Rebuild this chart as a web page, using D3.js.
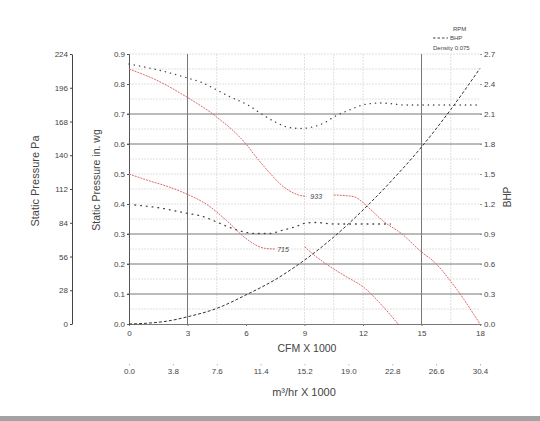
<!DOCTYPE html>
<meta charset="utf-8">
<script src="https://d3js.org/d3.v7.min.js"></script>
<style>
  body { margin: 0; background: #fff; }
  text { font-family: "Liberation Sans", Arial, sans-serif; fill: #444; }
</style>
<body>
  <div id="chart"></div>
</body>
<script>

  // axis ticks
  var cfmTicks = [0, 3, 6, 9, 12, 15, 18];
  var m3hrTicks = [0.0, 3.8, 7.6, 11.4, 15.2, 19.0, 22.8, 26.6, 30.4];
  var paTicks = [0, 28, 56, 84, 112, 140, 168, 196, 224];
  var wgTicks = [0, 0.1, 0.2, 0.3, 0.4, 0.5, 0.6, 0.7, 0.8, 0.9];
  var bhpTicks = [0, 0.3, 0.6, 0.9, 1.2, 1.5, 1.8, 2.1, 2.4, 2.7];

  // grid lines
  var darkGridWg = [0.1, 0.2, 0.3, 0.6, 0.7];
  var lightGridWg = [0.05, 0.15, 0.25, 0.35, 0.4, 0.45, 0.5, 0.55, 0.65, 0.75, 0.8, 0.85, 0.9];
  var darkGridCfm = [3, 15];
  var lightGridCfm = [4.5, 9, 10.5, 12, 16.5];

  // pressure curves (in. wg), split where the rpm label sits
  var highRpmCfmA = [0, 1.5, 3, 4.5, 6, 6.6, 7.2, 7.7, 8.2, 8.7, 9.1];
  var highRpmWgA  = [0.85, 0.81, 0.755, 0.69, 0.60, 0.55, 0.505, 0.47, 0.445, 0.43, 0.425];
  var highRpmCfmB = [10.5, 11.5, 12, 12.5, 13, 14, 15, 15.6, 16.7, 18];
  var highRpmWgB  = [0.43, 0.425, 0.405, 0.375, 0.345, 0.30, 0.24, 0.21, 0.125, 0.0];

  var lowRpmCfmA = [0, 1, 2, 3, 4, 5, 6, 6.6, 7, 7.5];
  var lowRpmWgA  = [0.50, 0.478, 0.458, 0.432, 0.398, 0.345, 0.285, 0.26, 0.252, 0.25];
  var lowRpmCfmB = [9, 9.45, 10, 11, 12.1, 13, 13.8];
  var lowRpmWgB  = [0.258, 0.232, 0.205, 0.163, 0.119, 0.06, 0.0];

  var rpmLabels = ["933", "715"];

  // brake horsepower curves
  var highBhpCfm = [0, 1.5, 3, 3.8, 4.5, 5.2, 6.1, 6.8, 7.5, 8.2, 8.8, 9.4, 10, 10.5, 11.3, 12.2, 12.9, 13.6, 14.1, 15.3, 16.5, 18];
  var highBhp    = [2.6, 2.54, 2.46, 2.41, 2.34, 2.27, 2.19, 2.10, 2.02, 1.965, 1.956, 1.97, 2.01, 2.07, 2.14, 2.2, 2.21, 2.2, 2.19, 2.19, 2.19, 2.19];

  var lowBhpCfm = [0.3, 1.6, 2.9, 3.7, 4.5, 5.1, 5.8, 6.5, 7.2, 7.9, 8.5, 9.1, 9.6, 10.5, 12, 13.4];
  var lowBhp    = [1.19, 1.16, 1.11, 1.08, 1.02, 0.97, 0.925, 0.905, 0.905, 0.94, 0.97, 1.01, 1.015, 1.0, 1.0, 1.0];

  // system curve (in. wg)
  var systemCfm = [0, 1, 2, 3, 4.5, 6, 7.5, 9, 10.5, 12, 13.5, 15, 16.5, 18];
  var systemWg  = [0, 0.003, 0.01, 0.024, 0.052, 0.097, 0.148, 0.213, 0.29, 0.38, 0.48, 0.59, 0.715, 0.852];

  var W = 540, H = 421;
  var plotL = 129, plotR = 480, plotT = 54, plotB = 324;

  var svg = d3.select("#chart")
    .append("svg")
      .attr("width", W)
      .attr("height", H);

  var x = d3.scaleLinear().domain([0, 18]).range([plotL, plotR]);
  var xM = d3.scaleLinear().domain([0, 30.4]).range([plotL, plotR]);
  var yWg = d3.scaleLinear().domain([0, 0.9]).range([plotB, plotT]);
  var yPa = d3.scaleLinear().domain([0, 224]).range([plotB, plotT]);
  var yBhp = d3.scaleLinear().domain([0, 2.7]).range([plotB, plotT]);

  // grid
  svg.selectAll(".lgh").data(lightGridWg).join("line")
    .attr("x1", plotL).attr("x2", plotR)
    .attr("y1", d => yWg(d)).attr("y2", d => yWg(d))
    .style("stroke", "#e0e0e0").style("stroke-dasharray", "2,1");
  svg.selectAll(".lgv").data(lightGridCfm).join("line")
    .attr("x1", d => x(d)).attr("x2", d => x(d))
    .attr("y1", plotT).attr("y2", plotB)
    .style("stroke", "#e0e0e0").style("stroke-dasharray", "2,1");
  svg.selectAll(".dgh").data(darkGridWg).join("line")
    .attr("x1", plotL - 2).attr("x2", plotR + 2)
    .attr("y1", d => yWg(d)).attr("y2", d => yWg(d))
    .style("stroke", "#777");
  svg.selectAll(".dgv").data(darkGridCfm).join("line")
    .attr("x1", d => x(d)).attr("x2", d => x(d))
    .attr("y1", plotT).attr("y2", plotB)
    .style("stroke", "#777");

  // axes
  function styleAxis(g, lineColor) {
    g.selectAll("text").style("font-size", "8px").style("fill", "#444");
    g.selectAll("line").style("stroke", lineColor);
    g.select(".domain").style("stroke", lineColor);
  }

  svg.append("g")
    .attr("transform", `translate(${plotL},0)`)
    .call(d3.axisLeft(yWg).tickValues(wgTicks).tickFormat(d3.format(".1f")).tickSize(2).tickPadding(2))
    .call(g => styleAxis(g, "#555"));

  svg.append("g")
    .attr("transform", "translate(72,0)")
    .call(d3.axisLeft(yPa).tickValues(paTicks).tickFormat(d3.format("d")).tickSizeInner(2).tickSizeOuter(0).tickPadding(2))
    .call(g => styleAxis(g, "#444"));

  svg.append("g")
    .attr("transform", `translate(${plotR},0)`)
    .call(d3.axisRight(yBhp).tickValues(bhpTicks).tickFormat(d3.format(".1f")).tickSize(2).tickPadding(2))
    .call(g => styleAxis(g, "#999"))
    .call(g => g.select(".domain").remove());

  svg.append("g")
    .attr("transform", `translate(0,${plotB})`)
    .call(d3.axisBottom(x).tickValues(cfmTicks).tickSizeInner(2).tickSizeOuter(0).tickPadding(4))
    .call(g => styleAxis(g, "#777"));

  svg.append("g")
    .attr("transform", "translate(0,364)")
    .call(d3.axisBottom(xM).tickValues(m3hrTicks).tickFormat(d3.format(".1f")).tickSize(1.5).tickPadding(3))
    .call(g => styleAxis(g, "#bbb"))
    .call(g => g.select(".domain").remove());

  // axis titles
  svg.append("text")
    .attr("transform", "translate(39,181) rotate(-90)")
    .attr("text-anchor", "middle")
    .style("font-size", "11px")
    .text("Static Pressure Pa");
  svg.append("text")
    .attr("transform", "translate(100,180) rotate(-90)")
    .attr("text-anchor", "middle")
    .style("font-size", "10.5px")
    .text("Static Pressure in. wg");
  svg.append("text")
    .attr("transform", "translate(511,197) rotate(-90)")
    .attr("text-anchor", "middle")
    .style("font-size", "10px")
    .text("BHP");
  svg.append("text")
    .attr("x", 307).attr("y", 352)
    .attr("text-anchor", "middle")
    .style("font-size", "10.5px")
    .text("CFM X 1000");
  svg.append("text")
    .attr("x", 304).attr("y", 396)
    .attr("text-anchor", "middle")
    .style("font-size", "11px")
    .text("m³/hr X 1000");

  // curves
  function wgLine(xs, ys) {
    return d3.line().curve(d3.curveMonotoneX)
      .x(function(d, i) { return x(xs[i]); })
      .y(function(d) { return yWg(d); })(ys);
  }
  function bhpLine(xs, ys) {
    return d3.line().curve(d3.curveMonotoneX)
      .x(function(d, i) { return x(xs[i]); })
      .y(function(d) { return yBhp(d); })(ys);
  }

  var redSeg = [
    [highRpmCfmA, highRpmWgA], [highRpmCfmB, highRpmWgB],
    [lowRpmCfmA, lowRpmWgA], [lowRpmCfmB, lowRpmWgB]
  ];
  svg.selectAll(".rpm").data(redSeg).join("path")
    .attr("d", d => wgLine(d[0], d[1]))
    .style("fill", "none")
    .style("stroke", "#e06a6a")
    .style("stroke-width", 1)
    .style("stroke-dasharray", "2,1");

  svg.append("path")
    .attr("d", bhpLine(highBhpCfm, highBhp))
    .style("fill", "none").style("stroke", "#444")
    .style("stroke-width", 1.3).style("stroke-linecap", "round")
    .style("stroke-dasharray", "0.3,5");

  svg.append("path")
    .attr("d", bhpLine(lowBhpCfm, lowBhp))
    .style("fill", "none").style("stroke", "#444")
    .style("stroke-width", 1.3).style("stroke-linecap", "round")
    .style("stroke-dasharray", "0.8,5");

  svg.append("path")
    .attr("d", wgLine(systemCfm, systemWg))
    .style("fill", "none").style("stroke", "#333")
    .style("stroke-width", 1)
    .style("stroke-dasharray", "3,2");

  // rpm labels
  svg.append("text")
    .attr("x", x(9.3)).attr("y", yWg(0.425) + 2.5)
    .style("font-size", "7px").style("font-style", "italic")
    .text(rpmLabels[0]);
  svg.append("text")
    .attr("x", x(7.6)).attr("y", yWg(0.25) + 2.5)
    .style("font-size", "7px").style("font-style", "italic")
    .text(rpmLabels[1]);

  // legend
  svg.append("text").attr("x", 453).attr("y", 31)
    .style("font-size", "6px").text("RPM");
  svg.append("line")
    .attr("x1", 433).attr("x2", 448).attr("y1", 38).attr("y2", 38)
    .style("stroke", "#444").style("stroke-dasharray", "2.5,2");
  svg.append("text").attr("x", 450).attr("y", 40)
    .style("font-size", "6px").text("BHP");
  svg.append("text").attr("x", 433).attr("y", 50)
    .style("font-size", "6px").text("Density 0.075");

  // bottom frame strip
  svg.append("rect")
    .attr("x", 0).attr("y", 416).attr("width", W).attr("height", 5)
    .style("fill", "#a3a3a3");

</script>
